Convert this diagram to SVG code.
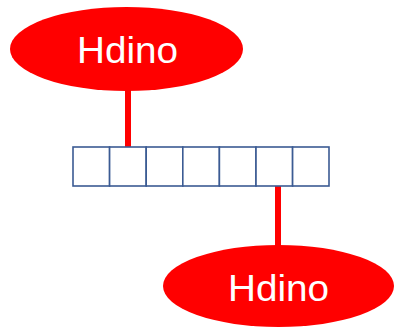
<svg xmlns="http://www.w3.org/2000/svg" width="394" height="327" viewBox="0 0 394 327">
  <style>
    .node-shape { fill: #ff0000; }
    .node-label { fill: #ffffff; font-family: "Liberation Sans", Arial, sans-serif; font-size: 36px; text-anchor: middle; }
    .cell { fill: #ffffff; stroke: #3b5b93; stroke-width: 1.6; }
    .link { stroke: #ff0000; stroke-width: 6; fill: none; }
  </style>
  <rect width="394" height="327" fill="#ffffff"/>

  <!-- connectors between the nodes and the array -->
  <g id="connectors">
    <line class="link" x1="128" y1="88" x2="128" y2="147"/>
    <line class="link" x1="278" y1="186" x2="278" y2="248"/>
  </g>

  <!-- seven-cell array -->
  <g id="array">
    <rect class="cell" x="73" y="147" width="36.6" height="39"/>
    <rect class="cell" x="109.6" y="147" width="36.6" height="39"/>
    <rect class="cell" x="146.2" y="147" width="36.6" height="39"/>
    <rect class="cell" x="182.8" y="147" width="36.6" height="39"/>
    <rect class="cell" x="219.4" y="147" width="36.6" height="39"/>
    <rect class="cell" x="256" y="147" width="36.6" height="39"/>
    <rect class="cell" x="292.6" y="147" width="36.4" height="39"/>
  </g>

  <g id="node-top">
    <ellipse class="node-shape" cx="126.5" cy="49" rx="116.5" ry="42"/>
    <text class="node-label" x="127.5" y="63.3" textLength="101" lengthAdjust="spacingAndGlyphs">Hdino</text>
  </g>

  <g id="node-bottom">
    <ellipse class="node-shape" cx="278.5" cy="286" rx="115.5" ry="41"/>
    <text class="node-label" x="278.5" y="300.7" textLength="101" lengthAdjust="spacingAndGlyphs">Hdino</text>
  </g>
</svg>
